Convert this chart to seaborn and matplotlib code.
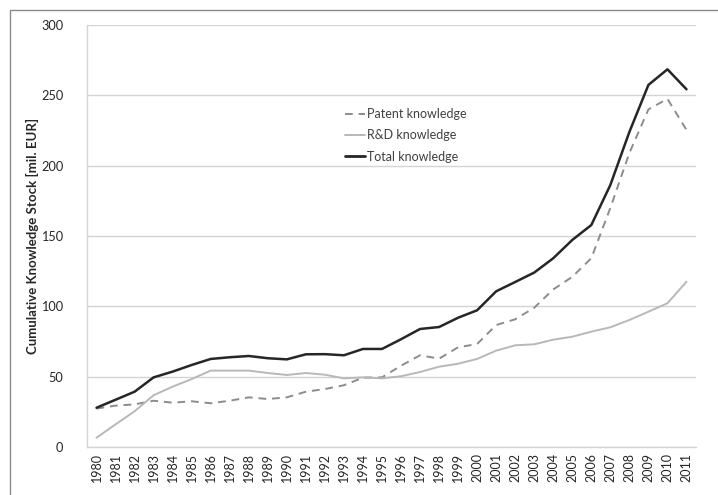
import pandas as pd
import matplotlib.pyplot as plt
import seaborn as sns
from matplotlib.patches import Rectangle

# Datos
years = list(range(1980, 2012))
patent = [27.3, 29.4, 30.3, 32.9, 31.5, 32.5, 31.1, 32.9, 35.3, 34.1, 35.3, 39.3,
          41.2, 43.9, 49.3, 49.5, 57.8, 65.2, 62.8, 70.9, 73.2, 86.7, 90.8, 99.0,
          112.0, 121.0, 134.2, 170.0, 209.0, 240.0, 247.5, 225.4]
rnd = [6.6, 16.1, 25.4, 36.8, 42.9, 48.3, 54.3, 54.3, 54.3, 52.6, 51.2, 52.6,
       51.4, 48.8, 49.5, 48.8, 50.3, 53.3, 57.1, 59.2, 62.6, 68.5, 72.3, 73.0,
       76.3, 78.4, 82.0, 85.1, 90.3, 96.2, 102.2, 117.5]
total = [27.9, 33.6, 39.3, 49.5, 53.6, 58.3, 62.6, 63.8, 64.7, 63.1, 62.3, 65.9,
         66.0, 65.2, 69.7, 69.7, 76.6, 83.9, 85.3, 91.9, 97.2, 110.7, 117.3, 124.0,
         134.2, 147.2, 157.8, 186.3, 224.0, 257.4, 268.5, 254.3]
series_names = ['Patent knowledge', 'R&D knowledge', 'Total knowledge']

df = pd.DataFrame({'year': years, series_names[0]: patent,
                   series_names[1]: rnd, series_names[2]: total})
df_long = df.melt(id_vars='year', var_name='serie', value_name='valor')

sns.set_style('white')
plt.rcParams['font.family'] = ['Lato', 'DejaVu Sans']

fig, ax = plt.subplots(figsize=(7.18, 4.95), dpi=100)
fig.subplots_adjust(left=87/718, right=696/718, bottom=48/495, top=470/495)

colores = {series_names[0]: '#8c8c8c', series_names[1]: '#b8b8b8', series_names[2]: '#262626'}
estilos = {series_names[0]: (4, 3), series_names[1]: '', series_names[2]: ''}
sns.lineplot(data=df_long, x='year', y='valor', hue='serie', style='serie',
             palette=colores, dashes=estilos, ax=ax, linewidth=1.4)
for line in ax.get_lines():
    if line.get_color() == '#262626':
        line.set_linewidth(1.8)

ax.set_xlim(1979.5, 2011.5)
ax.set_ylim(0, 300)
ax.set_yticks(range(0, 301, 50))
ax.set_xticks(years)
ax.set_xticklabels([str(y) for y in years], rotation=90, fontsize=9)
ax.tick_params(axis='y', labelsize=9.2, length=0, pad=17)
ax.tick_params(axis='x', length=0, pad=4)
ax.grid(axis='y', color='#d4d4d4', linewidth=1)
ax.set_axisbelow(True)
for s in ['top', 'right']:
    ax.spines[s].set_visible(False)
for s in ['left', 'bottom']:
    ax.spines[s].set_color('#d4d4d4')
    ax.spines[s].set_linewidth(1)

ax.set_xlabel('')
ax.set_ylabel('Cumulative Knowledge Stock [mil. EUR]', fontsize=9.5, fontweight='bold', labelpad=1.5)

# Leyenda
handles, labels = ax.get_legend_handles_labels()
for h in handles:
    if h.get_color() == '#262626':
        h.set_linewidth(2)
leg = ax.legend(handles, labels, loc='upper left', bbox_to_anchor=(0.405, 0.83),
                frameon=False, fontsize=9, handlelength=1.6, handletextpad=0.15,
                labelspacing=0.75)
for t in leg.get_texts():
    t.set_color('#404040')

# Marco de la figura
fig.patches.append(Rectangle((10/718, -0.1), 1.2, (485/495) + 0.1, transform=fig.transFigure,
                             fill=False, edgecolor='#8a8a8a', linewidth=1))

fig.savefig('out.png', dpi=100)
